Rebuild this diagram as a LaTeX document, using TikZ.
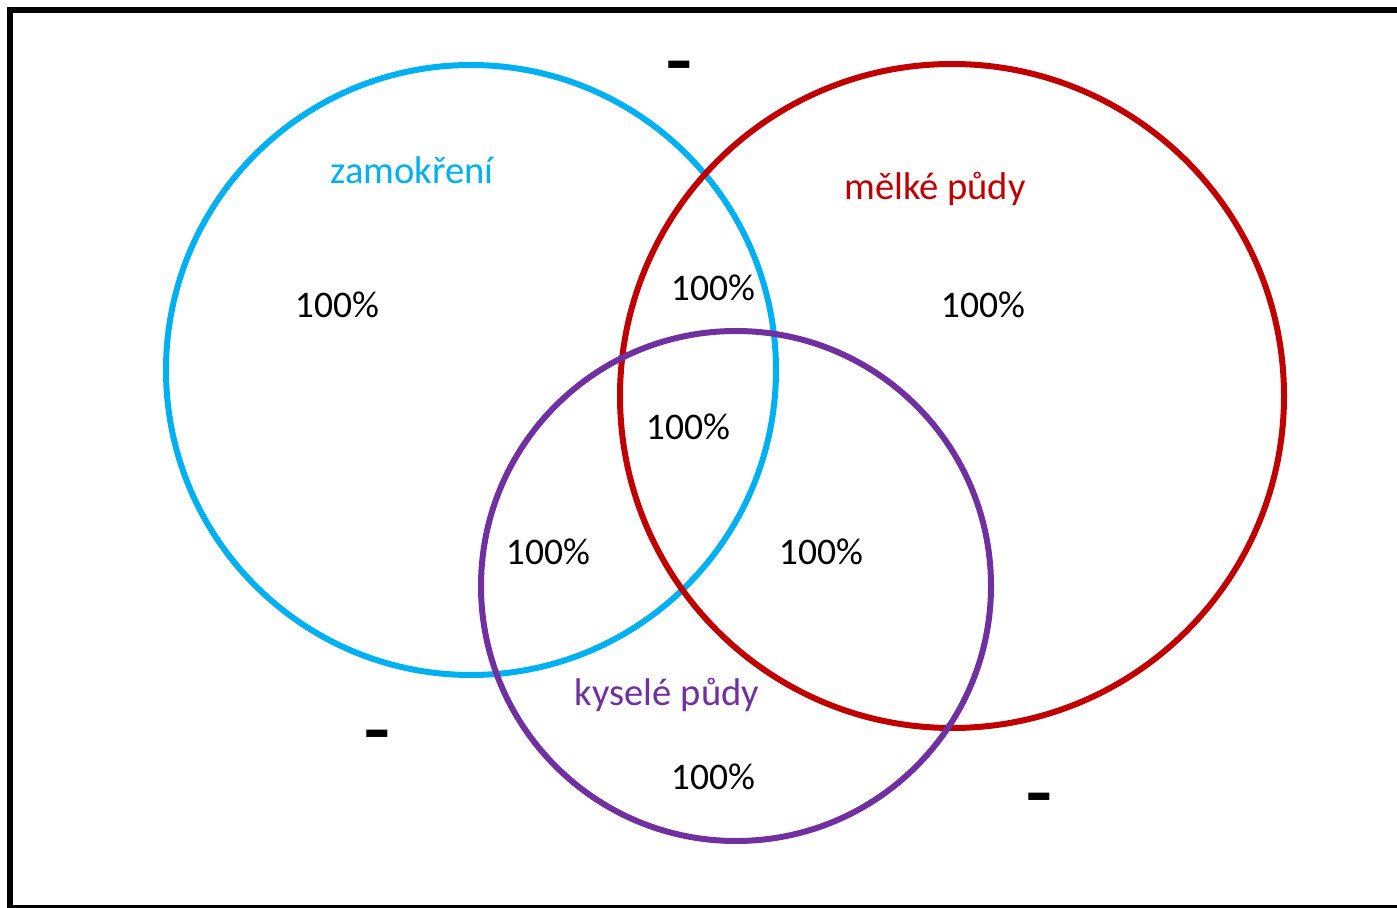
\documentclass[tikz,border=0pt]{standalone}
\usepackage{fontspec}
\setmainfont{Carlito}
\usepackage{tikz}
\definecolor{zamblue}{RGB}{0,176,240}
\definecolor{melred}{RGB}{192,0,0}
\definecolor{kyspurple}{RGB}{112,48,160}
\tikzset{setcircle/.style={line width=3pt}}
\tikzset{setname/.style={font=\fontsize{19.3}{21}\selectfont}}
\tikzset{pct/.style={font=\fontsize{18.8}{21}\selectfont,text=black}}
\tikzset{nothing/.style={font=\fontsize{22}{24}\selectfont\bfseries,text=black,inner sep=0pt}}

\begin{document}
\begin{tikzpicture}[x=0.5pt,y=-0.5pt] % pixel grid, y downwards
  \useasboundingbox (0,0) rectangle (1397,908);
  \draw[line width=3pt] (10,10) rectangle (1420,908);

  \coordinate (zam) at (471,370);
  \coordinate (mel) at (952,396);
  \coordinate (kys) at (736,586);

  \draw[setcircle,zamblue] (zam) circle (305);
  \draw[setcircle,melred] (mel) circle (332);
  \draw[setcircle,kyspurple] (kys) circle (255);

  \node[setname,text=zamblue] (zamname) at (412,170) {zamokření};
  \node[setname,text=melred] (melname) at (935,189) {mělké půdy};
  \node[setname,text=kyspurple] (kysname) at (667,695) {kyselé půdy};

  \node[pct] (pzam) at (337,305) {100\%};
  \node[pct] (pzammel) at (713,288) {100\%};
  \node[pct] (pmel) at (983,305) {100\%};
  \node[pct] (pall) at (688,427) {100\%};
  \node[pct] (pzamkys) at (548,552) {100\%};
  \node[pct] (pmelkys) at (821,552) {100\%};
  \node[pct] (pkys) at (713,777) {100\%};

  \node[nothing] (dtop) at (679,75) {\scalebox{1.35}[1.9]{–}};
  \node[nothing] (dleft) at (377,744) {\scalebox{1.35}[1.9]{–}};
  \node[nothing] (dright) at (1039,807) {\scalebox{1.35}[1.9]{–}};
\end{tikzpicture}
\end{document}
